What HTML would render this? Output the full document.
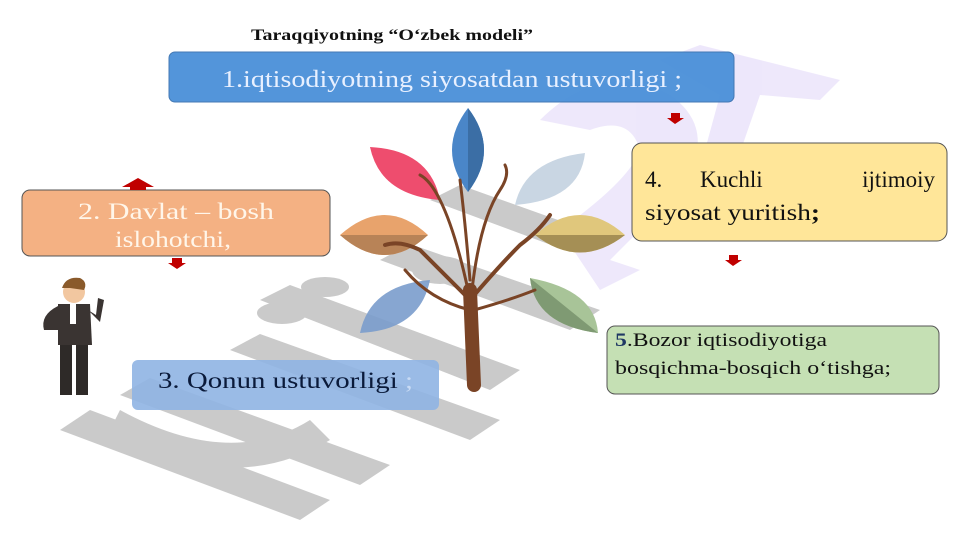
<!DOCTYPE html>
<html><head><meta charset="utf-8"><style>
body{margin:0;width:961px;height:540px;background:#fff;overflow:hidden;font-family:"Liberation Serif",serif;}
</style></head><body>
<svg width="961" height="540" viewBox="0 0 961 540" xmlns="http://www.w3.org/2000/svg" style="position:absolute;left:0;top:0">
<g fill="#bdbdbd" opacity="0.8">
<polygon points="60,430 90,410 330,500 300,520"/>
<polygon points="120,395 150,378 390,465 360,485"/>
<polygon points="230,350 260,334 500,420 470,440"/>
<polygon points="260,300 290,285 520,370 490,390"/>
<polygon points="380,260 410,244 600,310 570,330"/>
<polygon points="430,200 460,185 600,235 570,252"/>
<ellipse cx="325" cy="287" rx="24" ry="10"/>
<ellipse cx="282" cy="313" rx="25" ry="11"/>
<ellipse cx="440" cy="270" rx="28" ry="14"/>
<path d="M120,410 Q230,470 310,420 L330,440 Q230,500 110,430Z"/>
</g>
<g fill="#d9ccf7" opacity="0.45">
<path d="M540,120 Q600,60 670,95 Q720,130 680,190 L610,260 L640,270 L600,290 L560,230 Q630,180 640,150 Q630,115 590,130 Z"/>
<polygon points="660,60 700,45 840,80 820,100 760,95 720,210 690,205 720,95"/>
</g>
<rect x="169" y="52" width="565" height="50" rx="6" fill="#4a90d9" stroke="#3a72b0" opacity="0.95"/>
<text x="222" y="87" font-size="24" fill="#e8f0ff" textLength="460" lengthAdjust="spacingAndGlyphs">1.iqtisodiyotning siyosatdan ustuvorligi ;</text>
<rect x="22" y="190" width="308" height="66" rx="8" fill="#f4b183" stroke="#555"/>
<text x="78" y="219" font-size="23" fill="#fff6ea" textLength="196" lengthAdjust="spacingAndGlyphs">2. Davlat  –  bosh</text>
<text x="115" y="247" font-size="23" fill="#fff6ea" textLength="116" lengthAdjust="spacingAndGlyphs">islohotchi,</text>
<rect x="132" y="360" width="307" height="50" rx="6" fill="#8fb4e3" opacity="0.9"/>
<text x="158" y="388" font-size="23" fill="#0a1a3a" textLength="255" lengthAdjust="spacingAndGlyphs">3. Qonun  ustuvorligi <tspan fill="#c9dbf5">;</tspan></text>
<rect x="632" y="143" width="315" height="98" rx="10" fill="#ffe699" stroke="#555"/>
<text x="645" y="187" font-size="23" fill="#111">4.</text>
<text x="700" y="187" font-size="23" fill="#111">Kuchli</text>
<text x="935" y="187" font-size="23" fill="#111" text-anchor="end">ijtimoiy</text>
<text x="645" y="220" font-size="23" fill="#111" textLength="175" lengthAdjust="spacingAndGlyphs">siyosat yuritish<tspan font-weight="bold">;</tspan></text>
<rect x="607" y="326" width="332" height="68" rx="8" fill="#c5e0b4" stroke="#555"/>
<text x="615" y="346" font-size="19" fill="#111" textLength="212" lengthAdjust="spacingAndGlyphs"><tspan fill="#1f3864" font-weight="bold">5</tspan>.Bozor iqtisodiyotiga</text>
<text x="615" y="374" font-size="19" fill="#111" textLength="276" lengthAdjust="spacingAndGlyphs">bosqichma-bosqich o‘tishga;</text>
<g fill="#c00000">
<polygon points="122,187 138,178 154,187 146,187 146,190 130,190 130,187"/>
<polygon points="172,258 182,258 182,263 186,263 177,269 168,263 172,263"/>
<polygon points="671,113 680,113 680,118 684,118 675,124 667,118 671,118"/>
<polygon points="729,255 738,255 738,260 742,260 733,266 725,260 729,260"/>
</g>
<path d="M468,108 Q500,150 468,192 Q436,150 468,108Z" fill="#4a86c8"/>
<path d="M468,108 Q500,150 468,192Z" fill="#3b6ea5"/>
<path d="M370,147 Q430,150 440,200 Q380,195 370,147Z" fill="#ee4d6e"/>
<path d="M585,153 Q525,160 515,205 Q580,200 585,153Z" fill="#c9d6e3"/>
<path d="M340,235 Q385,195 428,235 Q385,275 340,235Z" fill="#e8a36c"/>
<path d="M340,235 L428,235 Q385,275 340,235Z" fill="#b88357"/>
<path d="M535,235 Q580,195 625,235 Q580,270 535,235Z" fill="#e0c77c"/>
<path d="M535,235 L625,235 Q580,270 535,235Z" fill="#a58f55"/>
<path d="M430,280 Q420,330 360,333 Q370,285 430,280Z" fill="#7a9ccc" opacity="0.9"/>
<path d="M530,278 Q595,290 598,333 Q535,325 530,278Z" fill="#a8c498"/>
<path d="M530,278 L598,333 Q535,325 530,278Z" fill="#7f9a73"/>
<g stroke="#7a4426" fill="none" stroke-linecap="round">
<path d="M474,385 L470,290" stroke-width="14"/>
<path d="M470,300 Q440,270 420,250 Q400,240 385,245" stroke-width="4"/>
<path d="M470,300 Q500,265 520,245 Q540,230 550,215" stroke-width="4"/>
<path d="M468,290 Q455,230 440,200 Q430,180 420,175" stroke-width="3"/>
<path d="M472,290 Q480,220 500,190 Q510,175 505,165" stroke-width="3"/>
<path d="M470,280 Q465,220 460,180" stroke-width="3"/>
<path d="M470,310 Q430,300 405,270" stroke-width="3"/>
<path d="M474,310 Q510,300 535,290" stroke-width="3"/>
</g>
<g>
<circle cx="74" cy="292" r="11" fill="#f2c7a0"/>
<path d="M62,288 Q66,276 80,278 Q88,282 84,290 L70,288Z" fill="#8a5a2b"/>
<path d="M58,304 L90,304 L92,345 L58,345Z" fill="#3a3432"/>
<path d="M58,306 Q40,315 44,330 L58,330Z" fill="#3a3432"/>
<path d="M88,310 L100,322 L104,300 L98,298 L96,315Z" fill="#3a3432"/>
<rect x="60" y="345" width="12" height="50" fill="#2e2a28"/>
<rect x="76" y="345" width="12" height="50" fill="#2e2a28"/>
<rect x="70" y="304" width="6" height="20" fill="#fff"/>
</g>
<text x="251" y="40" font-size="16" font-weight="bold" fill="#111" textLength="282" lengthAdjust="spacingAndGlyphs">Taraqqiyotning “O‘zbek modeli”</text>
</svg>
</body></html>
